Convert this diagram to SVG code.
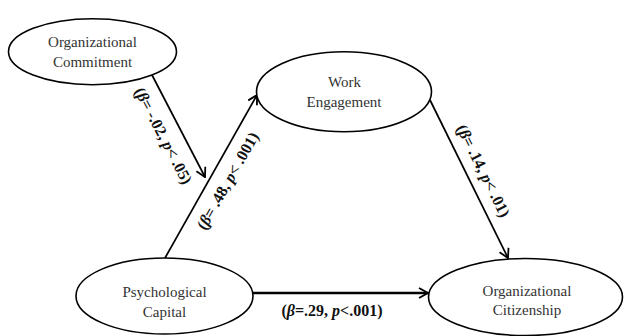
<svg xmlns="http://www.w3.org/2000/svg" width="624" height="336" viewBox="0 0 624 336">
<style>
.node ellipse{fill:#fff;stroke:#000;stroke-width:1.6}
.node text{font-family:"Liberation Serif","Times New Roman",serif;font-size:15px;fill:#333;text-anchor:middle}
.conn line{stroke:#000;stroke-width:1.7;marker-end:url(#arr)}
.lbl{font-family:"Liberation Serif","Times New Roman",serif;font-size:16px;font-weight:bold;fill:#111;text-anchor:middle}
.it{font-style:italic}
</style>
<defs>
<marker id="arr" viewBox="0 0 12 12" refX="11" refY="6" markerWidth="12" markerHeight="12" markerUnits="userSpaceOnUse" orient="auto">
<path d="M2,1 L11,6 L2,11" fill="none" stroke="#000" stroke-width="1.8"/>
</marker>
</defs>
<rect width="624" height="336" fill="#fff"/>
<g id="connectors" class="conn">
<line x1="152" y1="75" x2="205" y2="177"/>
<line x1="165" y1="258" x2="257" y2="95"/>
<line x1="430" y1="100" x2="508" y2="258"/>
<line x1="253" y1="293" x2="428" y2="293" style="stroke-width:2.4"/>
</g>
<g id="labels">
<text class="lbl" transform="translate(163,136) rotate(62.5)" y="5">(<tspan class="it">β</tspan>= -.02, <tspan class="it">p</tspan>&lt; .05)</text>
<text class="lbl" transform="translate(228,181) rotate(-60.4)" y="5">(<tspan class="it">β</tspan>= .48, <tspan class="it">p</tspan>&lt; .001)</text>
<text class="lbl" transform="translate(483,171) rotate(63.6)" y="5">(<tspan class="it">β</tspan>= .14, <tspan class="it">p</tspan>&lt; .01)</text>
<text class="lbl" x="332" y="316">(<tspan class="it">β</tspan>=.29, <tspan class="it">p</tspan>&lt;.001)</text>
</g>
<g id="node-oc" class="node">
<ellipse cx="92.5" cy="51.7" rx="84" ry="33"/>
<text x="92.5" y="47">Organizational</text>
<text x="92.5" y="67">Commitment</text>
</g>
<g id="node-we" class="node">
<ellipse cx="344" cy="91.7" rx="87.5" ry="40"/>
<text x="344.5" y="87">Work</text>
<text x="344" y="107">Engagement</text>
</g>
<g id="node-pc" class="node">
<ellipse cx="164.5" cy="296" rx="88.5" ry="38"/>
<text x="164.5" y="297">Psychological</text>
<text x="164.5" y="317">Capital</text>
</g>
<g id="node-ocit" class="node">
<ellipse cx="525.5" cy="297" rx="97" ry="38.5"/>
<text x="527" y="296">Organizational</text>
<text x="527" y="315">Citizenship</text>
</g>
</svg>
